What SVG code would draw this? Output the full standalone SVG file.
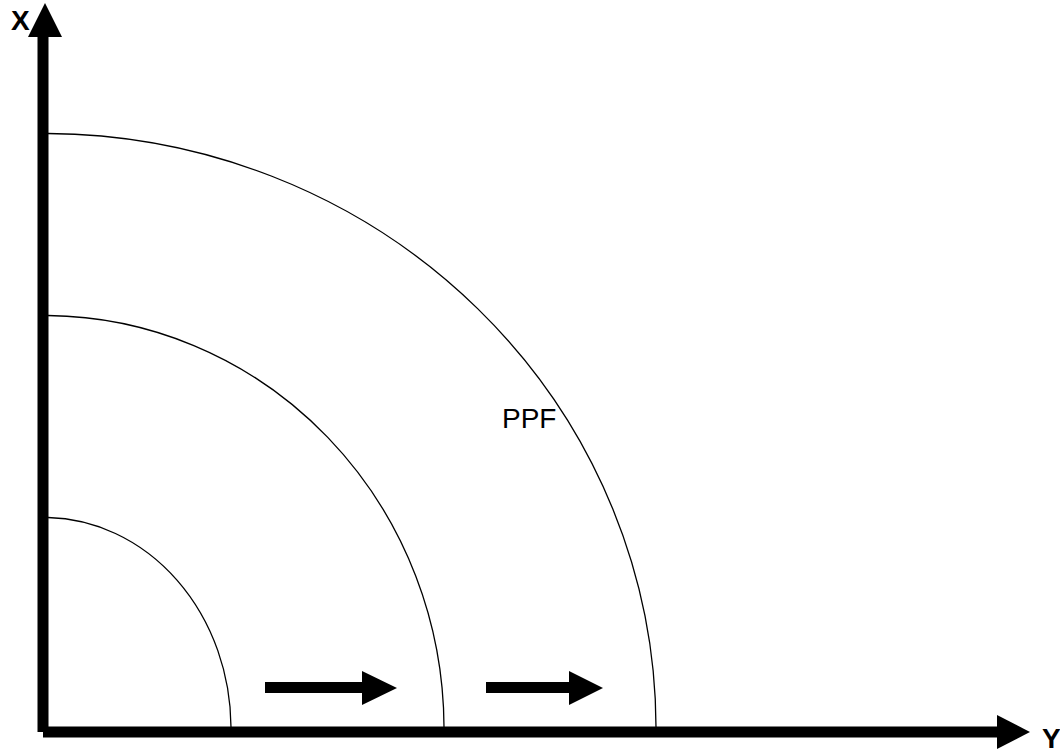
<svg xmlns="http://www.w3.org/2000/svg" width="1060" height="755" viewBox="0 0 1060 755">
<style>
.axis{fill:none;stroke:#000;stroke-width:11}
.head{fill:#000}
.arc{fill:none;stroke:#000;stroke-width:1.3}
.lbl{font-family:"Liberation Sans",Arial,sans-serif;fill:#000}
.ax{font-size:28px;font-weight:bold}
.ppf{font-size:28px}
</style>
<rect width="1060" height="755" fill="#fff"/>
<g id="connectors">
<line class="axis" x1="43" y1="732" x2="43" y2="36"/>
<polygon class="head" points="45,3 62,37 28,37"/>
<line class="axis" x1="43" y1="732" x2="998" y2="732"/>
<polygon class="head" points="1030,732 997,715 997,749"/>
<rect class="head" x="265" y="682" width="98" height="11"/>
<polygon class="head" points="397,688 362,671 362,705"/>
<rect class="head" x="486" y="682" width="84" height="11"/>
<polygon class="head" points="603,688 569,671 569,705"/>
</g>
<g id="curve-inner"><path class="arc" d="M48,517.5 A187,211 0 0 1 231,727"/></g>
<g id="curve-middle"><path class="arc" d="M48,315.5 A400,413 0 0 1 444,727"/></g>
<g id="curve-outer"><path class="arc" d="M48,133.5 A612,595 0 0 1 656,727"/></g>
<g id="label-x"><text class="lbl ax" x="11" y="30">X</text></g>
<g id="label-y"><text class="lbl ax" x="1042" y="748">Y</text></g>
<g id="label-ppf"><text class="lbl ppf" x="502" y="428">PPF</text></g>
</svg>
